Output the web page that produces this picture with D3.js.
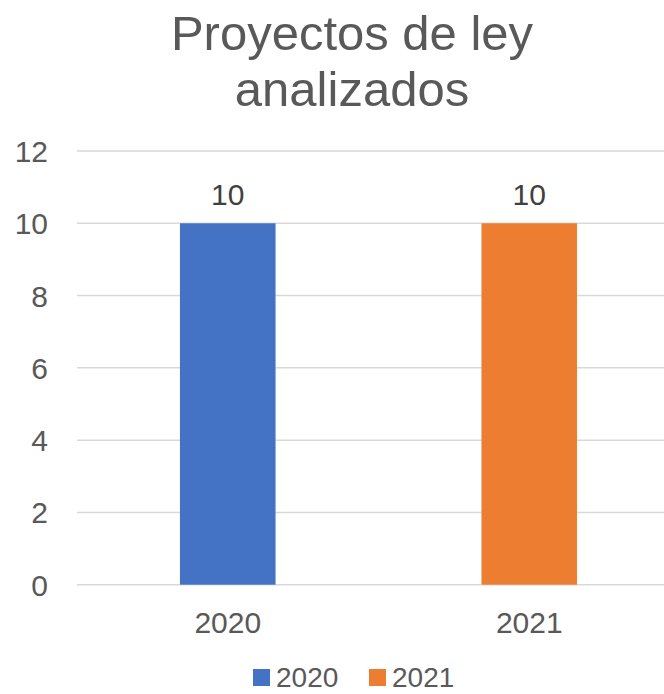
<!DOCTYPE html>
<html><head><meta charset="utf-8">
<script src="https://cdn.jsdelivr.net/npm/d3@7"></script>
<style>body{margin:0;background:#fff}svg{display:block;font-family:"Liberation Sans",Arial,sans-serif}</style>
</head><body>
<script>
const categories = ["2020", "2021"];
const values = [10, 10];
const colors = ["#4472C4", "#ED7D31"];
const yTicks = [0, 2, 4, 6, 8, 10, 12];
const titleLines = ["Proyectos de ley", "analizados"];

const W = 664, H = 694;
const svg = d3.select("body").append("svg").attr("width", W).attr("height", H);

const x = d3.scaleBand().domain(categories).range([77, 680]).paddingInner(0.683).paddingOuter(0.3415);
const y = d3.scaleLinear().domain([0, 12]).range([584.7, 151]);

// gridlines
svg.append("g").selectAll("line").data(yTicks).join("line")
  .attr("x1", 77).attr("x2", W)
  .attr("y1", d => y(d)).attr("y2", d => y(d))
  .attr("stroke", "#D9D9D9").attr("stroke-width", 1.5);

// y labels
svg.append("g").selectAll("text").data(yTicks).join("text")
  .attr("x", 48).attr("y", d => y(d) + 11)
  .attr("text-anchor", "end").attr("font-size", 30).attr("fill", "#595959")
  .text(d => d);

// bars
svg.append("g").selectAll("rect").data(categories).join("rect")
  .attr("x", d => x(d)).attr("width", x.bandwidth())
  .attr("y", (d, i) => y(values[i])).attr("height", (d, i) => y(0) - y(values[i]))
  .attr("fill", (d, i) => colors[i]);

// data labels
svg.append("g").selectAll("text").data(categories).join("text")
  .attr("x", d => x(d) + x.bandwidth() / 2).attr("y", (d, i) => y(values[i]) - 18)
  .attr("text-anchor", "middle").attr("font-size", 30).attr("fill", "#404040")
  .text((d, i) => values[i]);

// x labels
svg.append("g").selectAll("text").data(categories).join("text")
  .attr("x", d => x(d) + x.bandwidth() / 2).attr("y", 633)
  .attr("text-anchor", "middle").attr("font-size", 30).attr("fill", "#595959")
  .text(d => d);

// title
svg.append("g").selectAll("text").data(titleLines).join("text")
  .attr("x", 352).attr("y", (d, i) => 50 + i * 56)
  .attr("text-anchor", "middle").attr("font-size", 49).attr("fill", "#595959")
  .text(d => d);

// legend
const legendX = [253, 369];
const lg = svg.append("g").selectAll("g").data(categories).join("g")
  .attr("transform", (d, i) => `translate(${legendX[i]},0)`);
lg.append("rect").attr("x", 0).attr("y", 669).attr("width", 17).attr("height", 17)
  .attr("fill", (d, i) => colors[i]);
lg.append("text").attr("x", 23).attr("y", 687).attr("font-size", 28).attr("fill", "#595959")
  .text(d => d);
</script>
</body></html>
